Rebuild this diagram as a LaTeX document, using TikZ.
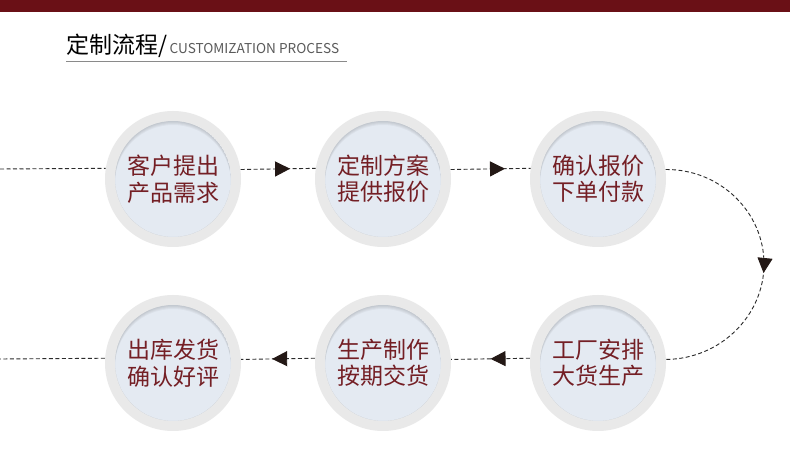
\documentclass[tikz,border=0pt]{standalone}
\usepackage{fontspec}
\setmainfont{Noto Sans CJK SC}
\usetikzlibrary{arrows.meta,decorations.markings}
\definecolor{barcol}{HTML}{6A1016}
\definecolor{txtcol}{HTML}{741F25}
\definecolor{ringcol}{HTML}{E9E9E9}
\definecolor{innercol}{HTML}{E4EAF2}
\definecolor{linecol}{HTML}{2B2B2B}
\definecolor{tipcol}{HTML}{231815}
\definecolor{titlegray}{HTML}{5A5A5A}
\definecolor{ulcol}{HTML}{8A8A8A}
\tikzset{
 stepcircle/.style={circle, minimum size=136pt, inner sep=0pt, fill=ringcol, align=center,
   text=txtcol, font=\fontsize{23}{26.5}\selectfont,
   path picture={
     \fill[innercol] (path picture bounding box.center) circle (58pt);
     \begin{scope}
       \clip (path picture bounding box.center) circle (58pt);
       \foreach \k in {1,...,4}{
         \fill[black, opacity=0.035, even odd rule] (path picture bounding box.center) circle (58pt)
           ([yshift=-\k pt]path picture bounding box.center) circle (58pt);
       }
     \end{scope}
   }},
 conn/.style={draw=linecol, line width=0.9pt, dash pattern=on 4pt off 2.5pt},
 tipat/.style={postaction={decorate}, decoration={markings,
   mark=at position #1 with {\arrow[solid, tipcol]{Triangle[length=15pt,width=15pt]}}}}
}
\begin{document}
\begin{tikzpicture}[x=1pt,y=1pt]
\useasboundingbox (0,0) rectangle (790,468);
\fill[white] (0,0) rectangle (790,468);
\fill[barcol] (0,456) rectangle (790,468);

% title
\node[anchor=base west, inner sep=0pt, font=\fontsize{23}{23}\selectfont] (t1) at (66,414.5) {定制流程/};
\node[anchor=base west, inner sep=0pt, font=\fontsize{13.6}{14}\selectfont, text=titlegray] (t2) at ([xshift=2pt]t1.base east) {CUSTOMIZATION PROCESS};
\draw[ulcol, line width=1pt] (66,406) -- (347,406);

% steps
\node[stepcircle] (c1) at (173,289) {客户提出\\产品需求};
\node[stepcircle] (c2) at (383,289) {定制方案\\提供报价};
\node[stepcircle] (c3) at (598,289) {确认报价\\下单付款};
\node[stepcircle] (c4) at (173,105) {出库发货\\确认好评};
\node[stepcircle] (c5) at (383,105) {生产制作\\按期交货};
\node[stepcircle] (c6) at (598,105) {工厂安排\\大货生产};

\coordinate (l1) at (0,299);
\coordinate (l2) at (0,109);
\coordinate (rt) at (764,204);

% connectors
\draw[conn] (l1) -- (c1.171.5);
\draw[conn, tipat=0.66] (c1.8.5) -- (c2.171.5);
\draw[conn, tipat=0.68] (c2.8.5) -- (c3.171.5);
\draw[conn, tipat=0.53] (c3.8.5) .. controls (720,299) and (764,256) .. (rt)
   .. controls (764,152) and (720,109) .. (c6.3.4);
\draw[conn, tipat=0.5] (c6.176.6) -- (c5.3.4);
\draw[conn, tipat=0.58] (c5.176.6) -- (c4.3.4);
\draw[conn] (c4.176.6) -- (l2);
\end{tikzpicture}
\end{document}
